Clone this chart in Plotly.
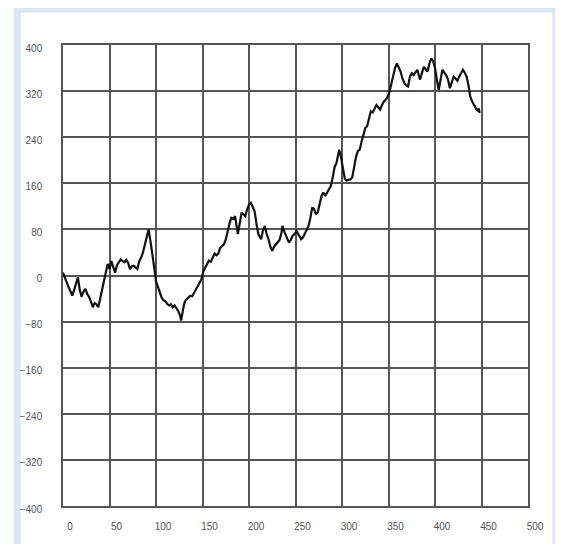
import plotly.graph_objects as go

x_values = [0, 2, 4, 6, 8, 10, 12, 14, 16, 18, 20, 22, 24, 26, 28, 30, 32, 34, 36, 38,
            40, 42, 44, 46, 48, 50, 52, 54, 56, 58, 60, 62, 64, 66, 68, 70, 72, 74, 76, 78,
            80, 82, 84, 86, 88, 90, 92, 94, 96, 98, 100, 102, 104, 106, 108, 110, 112, 114, 116, 118,
            120, 122, 124, 126, 127, 129, 131, 133, 135, 137, 139, 141, 143, 145, 147, 149, 151, 153, 155, 157,
            159, 161, 163, 165, 167, 169, 171, 173, 175, 177, 179, 181, 183, 185, 187, 188, 190, 192, 194, 196,
            198, 200, 202, 204, 206, 208, 210, 212, 213, 215, 217, 219, 221, 223, 225, 227, 229, 231, 233, 235,
            236, 238, 240, 242, 243, 245, 247, 249, 251, 253, 256, 258, 260, 262, 264, 266, 268, 270, 272, 274,
            276, 278, 280, 282, 284, 286, 288, 290, 292, 294, 296, 297, 299, 301, 303, 305, 307, 309, 311, 313,
            315, 317, 319, 321, 323, 325, 327, 329, 331, 333, 335, 337, 339, 341, 343, 345, 347, 349, 351, 353,
            355, 357, 359, 361, 363, 365, 367, 369, 371, 373, 375, 377, 379, 381, 383, 384, 386, 388, 390, 392,
            394, 396, 398, 400, 402, 404, 406, 408, 410, 412, 414, 416, 418, 420, 422, 424, 426, 428, 430, 432,
            434, 436, 438, 440, 442, 444, 446, 447, 448]
y_values = [5, -5, -12, -20, -28, -35, -25, -15, -3, -25, -37, -28, -23, -32, -37, -45, -55, -48, -50, -55,
            -40, -25, -5, 10, 20, 11, 25, 15, 5, 18, 23, 28, 25, 23, 27, 22, 11, 16, 17, 13,
            11, 25, 31, 40, 55, 70, 80, 60, 40, 15, -10, -20, -30, -38, -43, -45, -49, -52, -50, -55,
            -52, -56, -62, -70, -78, -60, -45, -41, -38, -35, -36, -30, -26, -20, -12, -6, 8, 14, 20, 26,
            24, 30, 38, 35, 38, 48, 51, 54, 62, 77, 90, 100, 98, 103, 85, 72, 90, 109, 106, 103,
            115, 123, 126, 120, 112, 90, 72, 66, 63, 78, 86, 72, 63, 50, 43, 50, 54, 58, 62, 75,
            86, 76, 69, 60, 57, 62, 69, 72, 77, 72, 63, 66, 72, 80, 86, 100, 118, 115, 106, 110,
            125, 138, 144, 138, 144, 150, 155, 170, 188, 195, 210, 218, 205, 185, 168, 165, 166, 167, 170, 190,
            205, 216, 218, 232, 247, 256, 259, 272, 285, 283, 290, 296, 292, 288, 296, 302, 305, 310, 318, 334,
            348, 360, 368, 362, 354, 342, 334, 330, 328, 345, 351, 348, 352, 357, 345, 340, 352, 362, 358, 354,
            368, 377, 372, 360, 340, 322, 340, 357, 352, 348, 340, 325, 335, 345, 342, 338, 345, 352, 357, 352,
            345, 330, 310, 302, 295, 290, 285, 290, 282]

x_ticks = [0, 50, 100, 150, 200, 250, 300, 350, 400, 450, 500]
y_ticks = [400, 320, 240, 160, 80, 0, -80, -160, -240, -320, -400]

fig = go.Figure()
fig.add_trace(go.Scatter(x=x_values, y=y_values, mode="lines",
                         line=dict(color="#111111", width=2.2), showlegend=False))

tick_font = dict(family="Liberation Sans, Arial, sans-serif", size=10, color="#555555")
fig.update_layout(
    width=555, height=536, autosize=False,
    margin=dict(l=53, r=35, t=37, b=36),
    paper_bgcolor="white", plot_bgcolor="white",
    xaxis=dict(range=[0, 500], tickvals=x_ticks, showgrid=True, gridcolor="#555555", gridwidth=1.5,
               showline=True, linecolor="#555555", linewidth=1.5, mirror=True, zeroline=False,
               ticks="", tickfont=tick_font, ticklabelshift=7, ticklabelstandoff=10),
    yaxis=dict(range=[-400, 400], tickvals=y_ticks, showgrid=True, gridcolor="#555555", gridwidth=1.5,
               showline=True, linecolor="#555555", linewidth=1.5, mirror=True, zeroline=False,
               ticks="", tickfont=tick_font, ticklabelshift=3, ticklabelstandoff=17),
    shapes=[dict(type="rect", xref="paper", yref="paper", x0=-0.0985, x1=1.06, y0=-0.12, y1=1.078,
                 line=dict(color="#dbe6f4", width=7), fillcolor="rgba(0,0,0,0)", layer="below")],
)

fig.write_html("out.html")
